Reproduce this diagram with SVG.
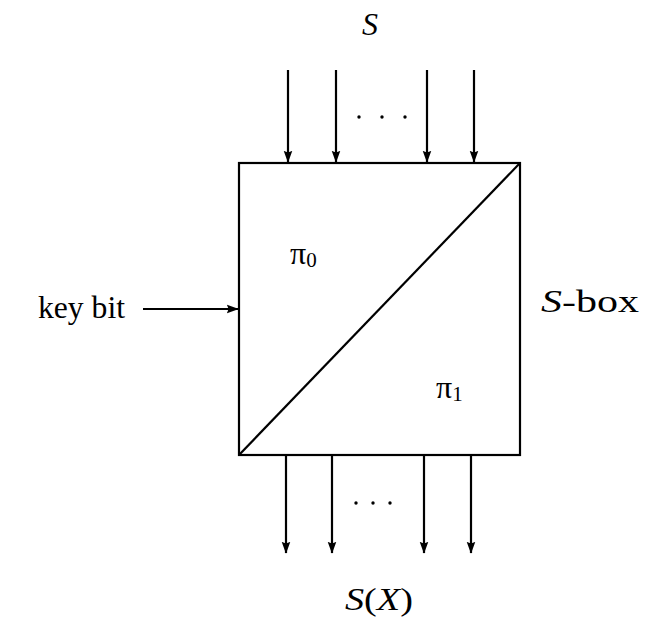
<svg xmlns="http://www.w3.org/2000/svg" width="646" height="622" viewBox="0 0 646 622">
<style>
.t{font-family:"Liberation Serif","DejaVu Serif",serif;font-size:32px;fill:#000}
.i{font-style:italic}
.w{stroke:#000;stroke-width:2.2;fill:none}
</style>
<defs>
<marker id="ah" markerWidth="12" markerHeight="14" viewBox="0 0 14 12" refX="13" refY="6" orient="auto" markerUnits="userSpaceOnUse">
<path d="M0,1 L14,6 L0,11 L2,6 Z" fill="#000"/>
</marker>
</defs>
<rect width="646" height="622" fill="#fff"/>
<g id="sbox">
<rect x="239" y="163" width="281" height="292" class="w" stroke-width="2.8"/>
<line x1="239" y1="455" x2="520" y2="163" class="w"/>
<text x="290" y="264" class="t" font-size="27">π<tspan font-size="21" dy="3">0</tspan></text>
<text x="436" y="398" class="t" font-size="27">π<tspan font-size="21" dy="3">1</tspan></text>
</g>
<g id="labels">
<text x="370" y="35" class="t i" text-anchor="middle">S</text>
<text x="38" y="318" class="t" textLength="87" lengthAdjust="spacingAndGlyphs">key bit</text>
<text x="541" y="312" class="t" textLength="98" lengthAdjust="spacingAndGlyphs"><tspan class="i">S</tspan>-box</text>
<text x="345" y="610" class="t" textLength="68" lengthAdjust="spacingAndGlyphs"><tspan class="i">S</tspan>(<tspan class="i">X</tspan>)</text>
</g>
<g id="connectors">
<line x1="288" y1="70" x2="288" y2="162" class="w" marker-end="url(#ah)"/>
<line x1="336" y1="70" x2="336" y2="162" class="w" marker-end="url(#ah)"/>
<line x1="427" y1="70" x2="427" y2="162" class="w" marker-end="url(#ah)"/>
<line x1="474" y1="70" x2="474" y2="162" class="w" marker-end="url(#ah)"/>
<line x1="286" y1="456" x2="286" y2="553" class="w" marker-end="url(#ah)"/>
<line x1="332" y1="456" x2="332" y2="553" class="w" marker-end="url(#ah)"/>
<line x1="424" y1="456" x2="424" y2="553" class="w" marker-end="url(#ah)"/>
<line x1="471" y1="456" x2="471" y2="553" class="w" marker-end="url(#ah)"/>
<line x1="143" y1="309" x2="238" y2="309" class="w" marker-end="url(#ah)"/>
</g>
<g id="dots" fill="#000">
<circle cx="359" cy="117" r="1.7"/><circle cx="382" cy="117" r="1.7"/><circle cx="405" cy="117" r="1.7"/>
<circle cx="356" cy="503" r="1.7"/><circle cx="373" cy="503" r="1.7"/><circle cx="390" cy="503" r="1.7"/>
</g>
</svg>
